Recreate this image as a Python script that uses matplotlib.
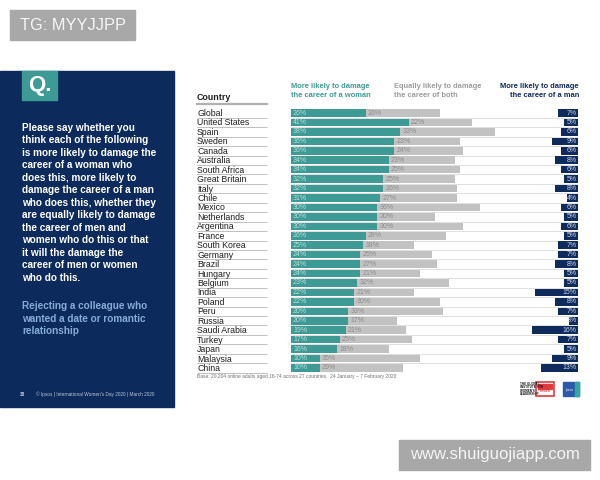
import matplotlib
matplotlib.use("Agg")
import matplotlib.pyplot as plt
from matplotlib.patches import Rectangle
import numpy as np

plt.rcParams['font.family'] = ['Liberation Sans', 'DejaVu Sans']

# ----------------------------
# DATA
# ----------------------------
countries = ["Global", "United States", "Spain", "Sweden", "Canada", "Australia",
             "South Africa", "Great Britain", "Italy", "Chile", "Mexico", "Netherlands",
             "Argentina", "France", "South Korea", "Germany", "Brazil", "Hungary",
             "Belgium", "India", "Poland", "Peru", "Russia", "Saudi Arabia", "Turkey",
             "Japan", "Malaysia", "China"]
woman = [26, 41, 38, 36, 36, 34, 34, 32, 32, 31, 30, 30, 30, 26, 25, 24, 24, 24,
         23, 22, 22, 20, 20, 19, 17, 16, 10, 10]
both = [26, 22, 33, 23, 24, 23, 25, 25, 26, 27, 36, 20, 30, 28, 18, 25, 27, 21,
        32, 21, 30, 33, 17, 21, 25, 18, 35, 29]
man = [7, 5, 6, 9, 6, 8, 6, 5, 8, 4, 6, 5, 6, 5, 7, 7, 8, 5,
       5, 15, 8, 7, 3, 16, 7, 5, 9, 13]

question_lines = ["Please say whether you", "think each of the following",
                  "is more likely to damage the", "career of a woman who",
                  "does this, more likely to", "damage the career of a man",
                  "who does this, whether they", "are equally likely to damage",
                  "the career of men and", "women who do this or that",
                  "it will the damage the", "career of men or women", "who do this."]
topic_lines = ["Rejecting a colleague who", "wanted a date or romantic", "relationship"]

TEAL = "#3d9a94"
GRAY = "#c2c2c2"
NAVY = "#0f2a5c"
PANEL = "#0c2a5b"

# ----------------------------
# FIGURE + BACKGROUND LAYER (pixel coords)
# ----------------------------
fig = plt.figure(figsize=(6, 4.8), dpi=100)
bg = fig.add_axes([0, 0, 1, 1])
bg.set_xlim(0, 600)
bg.set_ylim(480, 0)
bg.axis("off")

# left question panel
bg.add_patch(Rectangle((0, 71), 174, 336, color=PANEL, zorder=1))
bg.add_patch(Rectangle((22, 71), 35, 29, color=TEAL, zorder=2))
bg.text(39.5, 86, "Q.", color="white", fontsize=16, fontweight="bold",
        ha="center", va="center", zorder=3)
for i, line in enumerate(question_lines):
    bg.text(22, 128 + i * 12.47, line, color="white", fontsize=7.2,
            fontweight="bold", va="center", zorder=3)
for i, line in enumerate(topic_lines):
    bg.text(22, 306 + i * 12.5, line, color="#86acd8", fontsize=7.2,
            fontweight="bold", va="center", zorder=3)
bg.text(20, 394, "38", color="#c5cee0", fontsize=3.4, fontweight="bold", va="center", zorder=3)
bg.text(36, 394, "\u00a9 Ipsos | International Women's Day 2020 | March 2020",
        color="#b8c3d8", fontsize=3.4, va="center", zorder=3)

# headers
bg.text(197, 97, "Country", fontsize=6.4, fontweight="bold", color="#222222", va="center")
bg.plot([197, 267], [104.3, 104.3], color="#b0b0b0", lw=1.6)
bg.text(291, 87, "More likely to damage", fontsize=5.4, fontweight="bold", color=TEAL, va="center")
bg.text(291, 95.5, "the career of a woman", fontsize=5.4, fontweight="bold", color=TEAL, va="center")
bg.text(394, 87, "Equally likely to damage", fontsize=5.4, fontweight="bold", color="#9c9c9c", va="center")
bg.text(394, 95.5, "the career of both", fontsize=5.4, fontweight="bold", color="#9c9c9c", va="center")
bg.text(579, 87, "More likely to damage", fontsize=5.4, fontweight="bold", color=NAVY,
        va="center", ha="right")
bg.text(579, 95.5, "the career of a man", fontsize=5.4, fontweight="bold", color=NAVY,
        va="center", ha="right")

# base note
bg.text(197, 376.5, "Base: 20,204 online adults aged 16-74 across 27 countries,  24 January \u2013 7 February 2020",
        fontsize=3.5, color="#6f6f6f", va="center")

# logos
for k, t in enumerate(["THE GLOBAL", "INSTITUTE FOR", "WOMEN'S", "LEADERSHIP"]):
    bg.text(520, 384 + k * 3.3, t, fontsize=2.2, fontweight="bold", color="#111111", va="center")
bg.add_patch(Rectangle((536, 382), 18, 13.5, facecolor="white", edgecolor="#e0393e", lw=1.2))
bg.add_patch(Rectangle((538, 384), 14, 5, color="#e0393e"))
bg.text(545, 391.5, "KING'S", fontsize=2.3, color="#e0393e", ha="center", va="center", fontweight="bold")
bg.add_patch(Rectangle((563, 381.7), 16, 14.3, color="#2b5ba8"))
bg.add_patch(Rectangle((575, 381.7), 4, 14.3, color="#32a9a0"))
bg.text(569.5, 390, "Ipsos", fontsize=2.4, color="white", ha="center", va="center")

# watermarks
bg.add_patch(Rectangle((10, 10), 125, 30, color="#a8a8a8", zorder=5))
bg.text(20, 25.5, "TG: MYYJJPP", fontsize=11.8, color="#f5f5f5", va="center", zorder=6)
bg.add_patch(Rectangle((399, 440), 191, 30, color="#a8a8a8", zorder=5))
bg.text(494.5, 455, "www.shuiguojiapp.com", fontsize=12, color="#f5f5f5",
        ha="center", va="center", zorder=6)

# ----------------------------
# BAR CHART
# ----------------------------
n = len(countries)
ax = fig.add_axes([291 / 600, 1 - 372.7 / 480, 287 / 600, 264.4 / 480])
ax.patch.set_alpha(0)
y = np.arange(n)
woman_a = np.array(woman)
both_a = np.array(both)
man_a = np.array(man)

ax.hlines(np.arange(n - 1) + 0.5, 0, 100, colors="#dadada", lw=0.6, zorder=0)
ax.barh(y, woman_a, height=0.8, color=TEAL, zorder=2)
ax.barh(y, both_a, left=woman_a, height=0.8, color=GRAY, zorder=2)
ax.barh(y, man_a, left=100 - man_a, height=0.8, color=NAVY, zorder=2)

# country names + separators under them
lab_x = (197 - 291) / 287
ax.hlines(np.arange(n) + 0.5, lab_x, (267 - 291) / 287,
          transform=ax.get_yaxis_transform(), colors="#b5b5b5", lw=0.6, clip_on=False)
for i, c in enumerate(countries):
    ax.text(lab_x, i + 0.05, c, transform=ax.get_yaxis_transform(), fontsize=6.3,
            color="#1e1e1e", va="center", ha="left", clip_on=False)

for i in range(n):
    ax.text(0.7, i, f"{woman[i]}%", fontsize=5, color="#b9e0dc", va="center", ha="left", zorder=3)
    ax.text(woman[i] + 0.8, i, f"{both[i]}%", fontsize=5, color="#8d8d8d", va="center", ha="left", zorder=3)
    ax.text(99.6, i, f"{man[i]}%", fontsize=5, color="#c9d5ea", va="center", ha="right", zorder=3)

ax.set_xlim(0, 100)
ax.set_ylim(n - 0.5, -0.5)
ax.set_xticks([])
ax.set_yticks([])
for s in ax.spines.values():
    s.set_visible(False)

fig.savefig("out.png", dpi=100)
